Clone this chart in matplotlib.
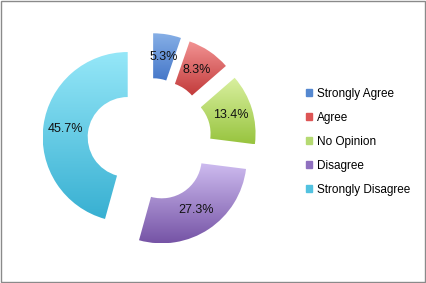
import numpy as np
import matplotlib.pyplot as plt
from matplotlib.colors import LinearSegmentedColormap
from matplotlib.patches import Rectangle

labels = ['Strongly Agree', 'Agree', 'No Opinion', 'Disagree', 'Strongly Disagree']
values = [5.3, 8.3, 13.4, 27.3, 45.7]
top_colors = ['#86afe6', '#f29393', '#d9f0a0', '#cdbbef', '#95e7f8']
bottom_colors = ['#4577c9', '#c23a3a', '#98c43f', '#7654a6', '#38b0d2']
legend_colors = ['#5588d0', '#dd5555', '#b5da72', '#8f70bf', '#52c2e0']

fig = plt.figure(figsize=(4.26, 2.83), dpi=100)
ax = fig.add_axes([0, 0, 1, 1])

wedges, texts, pcts = ax.pie(values, radius=85, center=(149.5, 143), startangle=90,
                             counterclock=False, explode=[22] * 5,
                             wedgeprops=dict(width=45, linewidth=0),
                             autopct='%1.1f%%', pctdistance=0.735,
                             textprops=dict(family='Liberation Sans', fontsize=9,
                                            color='#111111'))

# degradado vertical dentro de cada sector
inv = ax.transData.inverted()
for w, c1, c2 in zip(wedges, top_colors, bottom_colors):
    verts = inv.transform(w.get_verts())
    x0, y0 = verts.min(axis=0)
    x1, y1 = verts.max(axis=0)
    cmap = LinearSegmentedColormap.from_list('g', [c2, c1])
    grad = np.linspace(0, 1, 100).reshape(-1, 1)
    im = ax.imshow(grad, extent=(x0, x1, y0, y1), origin='lower', cmap=cmap,
                   aspect='auto', zorder=1)
    im.set_clip_path(w)
    w.set_facecolor('none')
for t in pcts:
    t.set_zorder(3)

handles = [Rectangle((0, 0), 1, 1, color=c) for c in legend_colors]
ax.legend(handles, labels, loc='upper left', bbox_to_anchor=(300 / 426, 1 - 82 / 283),
          frameon=False, prop=dict(family='Liberation Sans', size=8.5),
          handlelength=0.55, handleheight=0.55, handletextpad=0.35,
          labelspacing=1.02, borderpad=0)

ax.add_patch(Rectangle((0.5, 1.5), 424, 281, fill=False, edgecolor='#8a8a8a',
                       lw=1, clip_on=False))
ax.set_xlim(0, 426)
ax.set_ylim(0, 283)
ax.axis('off')

fig.savefig('out.png', dpi=100)
